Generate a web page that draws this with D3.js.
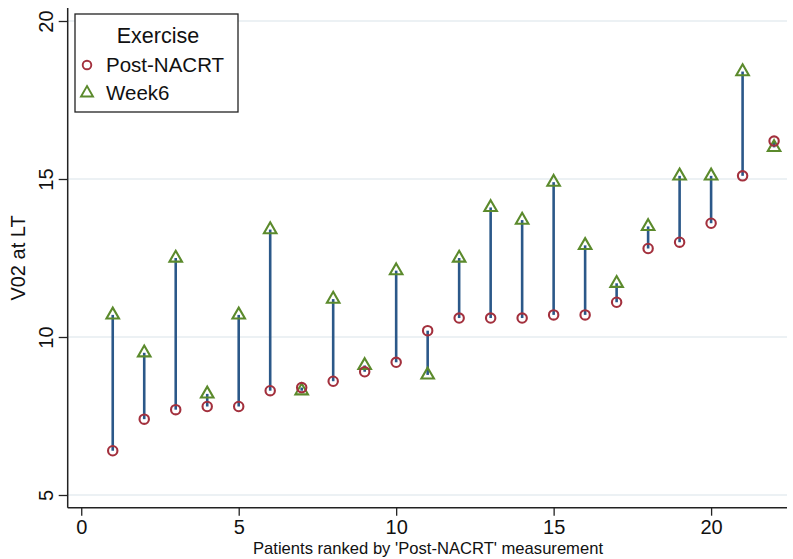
<!DOCTYPE html>
<html><head><meta charset="utf-8">
<script src="https://cdn.jsdelivr.net/npm/d3@7"></script>
<style>body{margin:0;background:#fff}svg{display:block}text{font-family:Arial,"Liberation Sans",sans-serif;fill:#111}</style>
</head><body><svg id="c" width="793" height="559"></svg>
<script>
const patients = [1,2,3,4,5,6,7,8,9,10,11,12,13,14,15,16,17,18,19,20,21,22];
const postNACRT = [6.4,7.4,7.7,7.8,7.8,8.3,8.4,8.6,8.9,9.2,10.2,10.6,10.6,10.6,10.7,10.7,11.1,12.8,13.0,13.6,15.1,16.2];
const week6 = [10.7,9.5,12.5,8.2,10.7,13.4,8.3,11.2,9.1,12.1,8.8,12.5,14.1,13.7,14.9,12.9,11.7,13.5,15.1,15.1,18.4,16.0];
const xTicks = [0,5,10,15,20];
const yTicks = [5,10,15,20];
const seriesNames = ["Post-NACRT","Week6"];
const legendTitle = "Exercise";
const xTitle = "Patients ranked by 'Post-NACRT' measurement";
const yTitle = "V02 at LT";

const red = "#a3303d", green = "#5b8a2c", navy = "#2b5889", grid = "#e6edf1";
const svg = d3.select("#c");
const x = d3.scaleLinear().domain([-0.43, 22.41]).range([67.7, 787]);
const y = d3.scaleLinear().domain([5, 20]).range([495, 21]);
const yTop = 8, yBot = 507.7, xL = 67.7, xR = 787;

// gridlines
svg.append("g").selectAll("line").data(yTicks).join("line")
  .attr("x1", xL).attr("x2", xR).attr("y1", d => y(d)).attr("y2", d => y(d))
  .attr("stroke", grid).attr("stroke-width", 1.5);

// axes
const gx = svg.append("g").attr("transform", `translate(0,${yBot})`)
  .call(d3.axisBottom(x).tickValues(xTicks).tickSize(8).tickPadding(4).tickFormat(d3.format("d")));
gx.select(".domain").attr("d", `M${xL},0H${xR}`).attr("stroke", "#222").attr("stroke-width", 1.5);
gx.selectAll(".tick line").attr("stroke", "#222").attr("stroke-width", 1.3);
gx.selectAll(".tick text").attr("font-size", 20).attr("font-family", "Arial, Liberation Sans, sans-serif").attr("fill", "#111");

const gy = svg.append("g").attr("transform", `translate(${xL},0)`)
  .call(d3.axisLeft(y).tickValues(yTicks).tickSize(9).tickPadding(4).tickFormat(d3.format("d")));
gy.select(".domain").attr("d", `M0,${yTop}V${yBot}`).attr("stroke", "#222").attr("stroke-width", 1.5);
gy.selectAll(".tick line").attr("stroke", "#222").attr("stroke-width", 1.3);
gy.selectAll(".tick text").attr("font-size", 20).attr("font-family", "Arial, Liberation Sans, sans-serif").attr("fill", "#111")
  .attr("text-anchor", "middle").attr("dy", null).attr("x", null)
  .attr("transform", "translate(-22,0) rotate(-90)").attr("dominant-baseline", "central");

// titles
svg.append("text").attr("x", 428).attr("y", 554).attr("text-anchor", "middle").attr("font-size", 16.6).text(xTitle);
svg.append("text").attr("transform", `translate(25,258) rotate(-90)`).attr("text-anchor", "middle").attr("font-size", 20).text(yTitle);

// spikes
svg.append("g").selectAll("line").data(patients).join("line")
  .attr("x1", (d) => x(d)).attr("x2", d => x(d))
  .attr("y1", (d,i) => y(postNACRT[i])).attr("y2", (d,i) => y(week6[i]))
  .attr("stroke", navy).attr("stroke-width", 2.6);

const tri = d3.symbol().type(d3.symbolTriangle).size(68);
// markers
svg.append("g").selectAll("path").data(patients).join("path")
  .attr("d", tri).attr("transform", (d,i) => `translate(${x(d)},${y(week6[i])})`)
  .attr("fill", "none").attr("stroke", green).attr("stroke-width", 2.1);
svg.append("g").selectAll("circle").data(patients).join("circle")
  .attr("cx", d => x(d)).attr("cy", (d,i) => y(postNACRT[i])).attr("r", 4.7)
  .attr("fill", "none").attr("stroke", red).attr("stroke-width", 2.1);

// legend
const lg = svg.append("g");
lg.append("rect").attr("x", 75).attr("y", 14).attr("width", 163).attr("height", 98)
  .attr("fill", "#fff").attr("stroke", "#222").attr("stroke-width", 1.3);
lg.append("text").attr("x", 158).attr("y", 43).attr("text-anchor", "middle").attr("font-size", 21.5).text(legendTitle);
lg.append("circle").attr("cx", 87).attr("cy", 65).attr("r", 4.3).attr("fill", "none").attr("stroke", red).attr("stroke-width", 1.9);
lg.append("path").attr("d", d3.symbol().type(d3.symbolTriangle).size(62)).attr("transform", "translate(87,93)").attr("fill", "none").attr("stroke", green).attr("stroke-width", 1.9);
lg.selectAll("text.item").data(seriesNames).join("text").attr("class", "item")
  .attr("x", 106).attr("y", (d,i) => 65 + i*28).attr("dy", "0.35em").attr("font-size", 20.5).text(d => d);
</script></body></html>
